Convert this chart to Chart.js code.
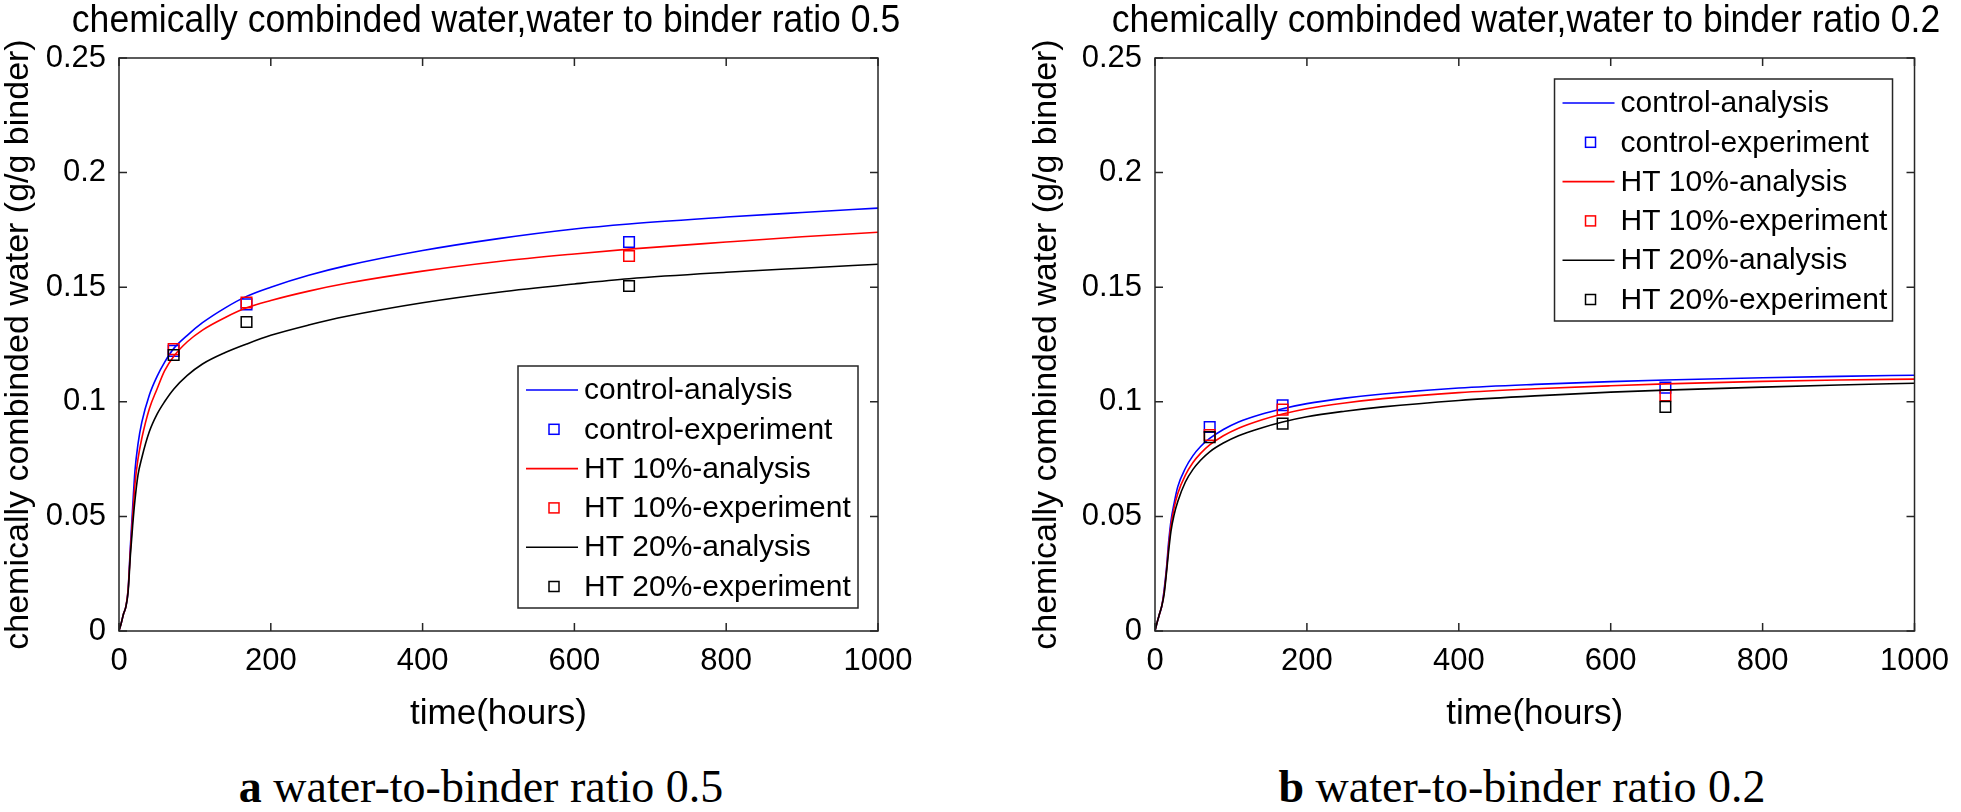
<!DOCTYPE html>
<html>
<head>
<meta charset="utf-8">
<script src="https://cdn.jsdelivr.net/npm/chart.js@4.4.1/dist/chart.umd.min.js"></script>
<style>
body { margin: 0; background: #fff; }
#page { position: relative; width: 1961px; height: 812px; overflow: hidden; background: #fff; }
.box { position: absolute; top: 0; height: 745px; }
.ttl { position: absolute; top: 0; font: 38px "Liberation Sans", Arial, sans-serif; line-height: 38px; white-space: nowrap; color: #000; transform: translateX(-50%) scaleX(0.936); }
.cap { position: absolute; top: 763px; font: 46px "Liberation Serif", "Times New Roman", serif; line-height: 48px; white-space: nowrap; transform: translateX(-50%); color: #000; }
</style>
</head>
<body>
<div id="page">
  <div class="box" style="left:0;width:980px"><canvas id="c05"></canvas></div>
  <div class="box" style="left:980px;width:981px"><canvas id="c02"></canvas></div>
  <div class="ttl" style="left:486px">chemically combinded water,water to binder ratio 0.5</div>
  <div class="ttl" style="left:1526px">chemically combinded water,water to binder ratio 0.2</div>
  <div class="cap" style="left:481px"><b>a</b> water-to-binder ratio 0.5</div>
  <div class="cap" style="left:1522px"><b>b</b> water-to-binder ratio 0.2</div>
</div>
<script>
// time axis of the model curves and of the measurements (hours)
const hoursA = [0, 3, 6, 9, 12, 15, 18, 21, 25, 30, 40, 50, 60, 72, 90, 110, 140, 168, 200, 250, 300, 400, 500, 600, 672, 800, 900, 1000];
const hoursE = [72, 168, 672];

// w/b 0.5
const ctrlA05 = [0, 0.0035, 0.0075, 0.0105, 0.018, 0.037, 0.054, 0.0698, 0.0815, 0.091, 0.103, 0.111, 0.1172, 0.1232, 0.129, 0.1345, 0.141, 0.146, 0.150, 0.1552, 0.1594, 0.166, 0.1712, 0.1754, 0.1776, 0.1806, 0.1826, 0.1845];
const ht10A05 = [0, 0.0035, 0.0075, 0.0105, 0.018, 0.035, 0.050, 0.064, 0.075, 0.084, 0.097, 0.1055, 0.1135, 0.1198, 0.1262, 0.1313, 0.1368, 0.141, 0.1442, 0.1483, 0.1517, 0.157, 0.1612, 0.1645, 0.1666, 0.1697, 0.172, 0.174];
const ht20A05 = [0, 0.0035, 0.0075, 0.0105, 0.017, 0.033, 0.046, 0.057, 0.068, 0.0755, 0.087, 0.0945, 0.100, 0.1055, 0.1115, 0.1165, 0.1215, 0.1252, 0.129, 0.1335, 0.1373, 0.1432, 0.1478, 0.1514, 0.1537, 0.1565, 0.1583, 0.160];
const ctrlE05 = [0.1222, 0.1425, 0.1697];
const ht10E05 = [0.1230, 0.1433, 0.1636];
const ht20E05 = [0.1204, 0.1348, 0.1505];

// w/b 0.2
const ctrlA02 = [0, 0.004, 0.0075, 0.011, 0.018, 0.027, 0.039, 0.048, 0.0555, 0.063, 0.071, 0.0765, 0.0805, 0.084, 0.0879, 0.0912, 0.0946, 0.097, 0.0992, 0.1016, 0.1034, 0.106, 0.1076, 0.1088, 0.1095, 0.1105, 0.1111, 0.1116];
const ht10A02 = [0, 0.004, 0.0075, 0.011, 0.017, 0.026, 0.037, 0.046, 0.0535, 0.060, 0.068, 0.0735, 0.0775, 0.0812, 0.0852, 0.0885, 0.0921, 0.0947, 0.097, 0.0995, 0.1014, 0.104, 0.1057, 0.107, 0.1078, 0.1089, 0.1095, 0.1099];
const ht20A02 = [0, 0.004, 0.0075, 0.011, 0.016, 0.025, 0.035, 0.0435, 0.0505, 0.0565, 0.065, 0.0705, 0.0745, 0.0782, 0.082, 0.0852, 0.0886, 0.0912, 0.0935, 0.0959, 0.0978, 0.1006, 0.1026, 0.1042, 0.1051, 0.1064, 0.1073, 0.1081];
const ctrlE02 = [0.0890, 0.0985, 0.1062];
const ht10E02 = [0.0855, 0.0966, 0.1028];
const ht20E02 = [0.0846, 0.0905, 0.0978];

const seriesNames = ['control-analysis', 'control-experiment', 'HT 10%-analysis', 'HT 10%-experiment', 'HT 20%-analysis', 'HT 20%-experiment'];
const xTickLabels = ['0', '200', '400', '600', '800', '1000'];
const yTickLabels = ['0', '0.05', '0.1', '0.15', '0.2', '0.25'];

const FONT = '"Liberation Sans", Arial, Helvetica, sans-serif';
const AXIS = '#262626';
Chart.defaults.font.family = FONT;
Chart.defaults.color = '#000';

const pairs = (xs, ys) => xs.map((x, i) => ({ x: x, y: ys[i] }));

function curve(label, xs, ys, color, order) {
  return {
    label: label, data: pairs(xs, ys), borderColor: color, borderWidth: 1.6,
    pointRadius: 0, fill: false, cubicInterpolationMode: 'monotone', order: order
  };
}
function marks(label, xs, ys, color, order) {
  return {
    label: label, data: pairs(xs, ys), showLine: false, borderColor: color,
    pointStyle: 'rect', pointRadius: 7.5, pointBorderWidth: 1.5,
    pointBorderColor: color, pointBackgroundColor: 'rgba(0,0,0,0)', order: order
  };
}

// MATLAB-like box, inward ticks and legend
const matlabBox = {
  id: 'matlabBox',
  afterDraw(chart, args, opts) {
    const { ctx, chartArea: a, scales: { x, y } } = chart;
    ctx.save();
    ctx.strokeStyle = AXIS;
    ctx.lineWidth = 1.5;
    ctx.beginPath();
    x.ticks.forEach(t => {
      const px = x.getPixelForValue(t.value);
      ctx.moveTo(px, a.bottom); ctx.lineTo(px, a.bottom - 8);
      ctx.moveTo(px, a.top); ctx.lineTo(px, a.top + 8);
    });
    y.ticks.forEach(t => {
      const py = y.getPixelForValue(t.value);
      ctx.moveTo(a.left, py); ctx.lineTo(a.left + 8, py);
      ctx.moveTo(a.right, py); ctx.lineTo(a.right - 8, py);
    });
    ctx.stroke();
    ctx.strokeRect(a.left, a.top, a.right - a.left, a.bottom - a.top);

    // legend
    const w = opts.w, h = 242;
    const bx = a.right - opts.dx - w;
    const by = opts.corner === 'se' ? a.bottom - opts.dy - h : a.top + opts.dy;
    ctx.fillStyle = '#fff';
    ctx.fillRect(bx, by, w, h);
    ctx.strokeStyle = AXIS;
    ctx.lineWidth = 1.5;
    ctx.strokeRect(bx, by, w, h);
    ctx.font = '30px ' + FONT;
    ctx.textBaseline = 'middle';
    ctx.textAlign = 'left';
    chart.data.datasets.forEach((ds, i) => {
      const ry = by + 24 + i * 39.3;
      ctx.strokeStyle = ds.borderColor;
      if (ds.showLine === false) {
        ctx.lineWidth = 1.5;
        ctx.strokeRect(bx + 31, ry - 5, 10, 10);
      } else {
        ctx.lineWidth = 1.6;
        ctx.beginPath();
        ctx.moveTo(bx + 8, ry); ctx.lineTo(bx + 60, ry);
        ctx.stroke();
      }
      ctx.fillStyle = '#000';
      ctx.fillText(ds.label, bx + 66, ry + 1);
    });
    ctx.restore();
  }
};

function makeChart(id, a, e, pad, yWidth, legend) {
  const datasets = [
    curve(seriesNames[0], hoursA, a[0], '#0000ff', 6),
    marks(seriesNames[1], hoursE, e[0], '#0000ff', 5),
    curve(seriesNames[2], hoursA, a[1], '#ff0000', 4),
    marks(seriesNames[3], hoursE, e[1], '#ff0000', 3),
    curve(seriesNames[4], hoursA, a[2], '#000000', 2),
    marks(seriesNames[5], hoursE, e[2], '#000000', 1)
  ];
  return new Chart(document.getElementById(id), {
    type: 'line',
    data: { datasets: datasets },
    options: {
      responsive: true,
      maintainAspectRatio: false,
      animation: false,
      devicePixelRatio: 1,
      layout: { padding: { left: pad.left, right: pad.right, top: 58, bottom: 0 } },
      plugins: {
        legend: { display: false },
        tooltip: { enabled: false },
        title: { display: false },
        matlabBox: legend
      },
      scales: {
        x: {
          type: 'linear', min: 0, max: 1000,
          grid: { display: false, drawTicks: false },
          border: { display: false },
          ticks: { stepSize: 200, font: { size: 31 }, color: '#000', padding: 12,
                   callback: (v, i) => xTickLabels[i] },
          title: { display: true, text: 'time(hours)', color: '#000',
                   font: { size: 35, lineHeight: 1 }, padding: { top: 0, bottom: 13 } },
          afterFit: s => { s.height = 114; }
        },
        y: {
          min: 0, max: 0.25,
          grid: { display: false, drawTicks: false },
          border: { display: false },
          ticks: { stepSize: 0.05, font: { size: 31 }, color: '#000', padding: 13,
                   callback: (v, i) => yTickLabels[i] },
          title: { display: true, text: 'chemically combinded water (g/g binder)', color: '#000',
                   font: { size: 34, lineHeight: 1 }, padding: { top: 0, bottom: 0 } },
          afterFit: s => { s.width = yWidth; }
        }
      }
    },
    plugins: [matlabBox]
  });
}

makeChart('c05', [ctrlA05, ht10A05, ht20A05], [ctrlE05, ht10E05, ht20E05],
  { left: 2, right: 102 }, 117, { corner: 'se', dx: 20, dy: 23, w: 340 });
makeChart('c02', [ctrlA02, ht10A02, ht20A02], [ctrlE02, ht10E02, ht20E02],
  { left: 50, right: 45 }, 125, { corner: 'ne', dx: 22, dy: 21, w: 338 });
</script>
</body>
</html>
